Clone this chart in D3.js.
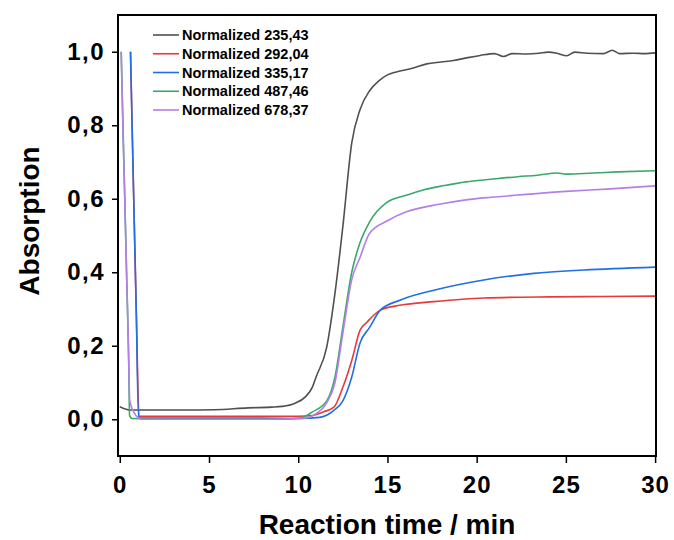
<!DOCTYPE html>
<html>
<head>
<meta charset="utf-8">
<script src="https://cdn.jsdelivr.net/npm/d3@7"></script>
<style>
    body { margin: 0; background: #fff; }
    text { font-family: Arial, "Liberation Sans", sans-serif; font-weight: bold; }
</style>
</head>
<body>
<svg id="chart" width="674" height="540"></svg>
<script>
// series labels and colours
const seriesNames = ['Normalized 235,43', 'Normalized 292,04', 'Normalized 335,17', 'Normalized 487,46', 'Normalized 678,37'];
const seriesColors = ['#505050', '#e8393b', '#1f6fe6', '#3aa86a', '#b47fe6'];

// time (min) and normalized absorption
const t235 = [0, 0.6, 2, 3.5, 5.3, 7.2, 8.5, 9.1, 9.8, 10.4, 10.8, 11.0, 11.6, 12.06, 12.5, 13.0, 13.46, 14.0, 14.5, 15.0, 15.5, 16.4, 17.2, 18.0, 18.7, 19.5, 20.2, 21.0, 21.5, 22.0, 22.8, 23.5, 24.0, 24.5, 25.05, 25.5, 26.2, 27.1, 27.6, 28.0, 28.8, 29.4, 30.0];
const v235 = [0.034, 0.025, 0.025, 0.025, 0.026, 0.031, 0.033, 0.035, 0.043, 0.061, 0.088, 0.115, 0.197, 0.343, 0.524, 0.752, 0.842, 0.894, 0.92, 0.937, 0.945, 0.955, 0.967, 0.972, 0.976, 0.984, 0.99, 0.995, 0.987, 0.995, 0.994, 0.996, 0.999, 0.996, 0.989, 0.999, 0.996, 0.995, 1.004, 0.995, 0.996, 0.995, 0.997];

const t292 = [0.6, 0.74, 0.93, 1.08, 3, 6, 9, 10.0, 10.8, 11.4, 12.0, 12.5, 13.0, 13.46, 13.85, 14.6, 15.7, 17.6, 20.4, 24.1, 27, 30];
const v292 = [1.0, 0.69, 0.28, 0.008, 0.008, 0.008, 0.008, 0.008, 0.01, 0.02, 0.033, 0.087, 0.16, 0.242, 0.264, 0.297, 0.31, 0.32, 0.33, 0.333, 0.334, 0.335];

const t335 = [0.6, 0.74, 0.93, 1.05, 1.2, 4, 8, 10.1, 11.2, 12.0, 12.5, 13.0, 13.46, 14.0, 14.6, 15.7, 17.6, 20.4, 23.2, 26, 30];
const v335 = [1.0, 0.69, 0.28, 0.003, 0.003, 0.003, 0.003, 0.002, 0.005, 0.024, 0.05, 0.115, 0.207, 0.25, 0.297, 0.324, 0.351, 0.379, 0.397, 0.406, 0.414];

const t487 = [0.08, 0.2, 0.3, 0.4, 0.5, 0.55, 0.7, 3, 6, 9, 10.1, 10.8, 11.6, 12.06, 12.5, 13.0, 13.46, 14.0, 14.97, 16.1, 17.0, 18.2, 19.4, 20.8, 22.3, 23.4, 24.5, 25.0, 26.5, 27.9, 30];
const v487 = [1.0, 0.76, 0.56, 0.36, 0.16, 0.01, 0.002, 0.0, 0.0, 0.0, 0.003, 0.02, 0.05, 0.115, 0.25, 0.40, 0.48, 0.537, 0.59, 0.61, 0.624, 0.636, 0.646, 0.653, 0.66, 0.664, 0.67, 0.667, 0.67, 0.673, 0.676];

const t678 = [0.08, 0.18, 0.28, 0.37, 0.47, 0.56, 0.94, 1.2, 4, 8, 10.2, 11.0, 11.6, 12.06, 12.5, 13.0, 13.46, 14.0, 15.0, 16.1, 17.9, 19.4, 20.8, 22.3, 25.0, 27.5, 30];
const v678 = [1.0, 0.78, 0.6, 0.415, 0.23, 0.05, 0.008, 0.0, 0.0, 0.0, 0.002, 0.015, 0.045, 0.1, 0.234, 0.38, 0.44, 0.506, 0.54, 0.565, 0.585, 0.597, 0.604, 0.61, 0.62, 0.627, 0.635];

const xTicks = [0, 5, 10, 15, 20, 25, 30];
const yTicks = [0, 0.2, 0.4, 0.6, 0.8, 1.0];

const times = [t235, t292, t335, t487, t678];
const values = [v235, v292, v335, v487, v678];

const box = { left: 118, right: 656, top: 15, bottom: 456 };
const svg = d3.select('#chart');

const x = d3.scaleLinear().domain([-0.1, 30.05]).range([box.left, box.right]);
const y = d3.scaleLinear().domain([-0.1, 1.1]).range([box.bottom, box.top]);

const fmt = (d) => d.toFixed(1).replace('.', ',');

// axes (ticks outside the frame)
const xAxis = svg.append('g')
    .attr('transform', `translate(0, ${ box.bottom + 1 })`)
    .call(d3.axisBottom(x).tickValues(xTicks).tickSize(6).tickPadding(13).tickFormat(d3.format('d')));
xAxis.select('.domain').remove();
xAxis.selectAll('line').attr('stroke', '#000').attr('stroke-width', 1.5);
xAxis.selectAll('text')
    .attr('fill', '#000')
    .style('font-size', '24px')
    .style('letter-spacing', '1px');

const yAxis = svg.append('g')
    .attr('transform', `translate(${ box.left }, 0)`)
    .call(d3.axisLeft(y).tickValues(yTicks).tickSize(6).tickPadding(7).tickFormat(fmt));
yAxis.select('.domain').remove();
yAxis.selectAll('line').attr('stroke', '#000').attr('stroke-width', 1.5);
yAxis.selectAll('text')
    .attr('fill', '#000')
    .style('font-size', '24px')
    .style('letter-spacing', '1.5px');

// curves
const line = d3.line()
    .x((d) => x(d[0]))
    .y((d) => y(d[1]))
    .curve(d3.curveMonotoneX);

seriesNames.forEach((name, i) => {
    const pts = times[i].map((t, k) => [t, values[i][k]]);
    svg.append('path')
        .datum(pts)
        .attr('d', line)
        .attr('fill', 'none')
        .attr('stroke', seriesColors[i])
        .attr('stroke-width', 1.6);
});

// frame
svg.append('rect')
    .attr('x', box.left)
    .attr('y', box.top)
    .attr('width', box.right - box.left)
    .attr('height', box.bottom - box.top)
    .attr('fill', 'none')
    .attr('stroke', '#000')
    .attr('stroke-width', 2);

// legend
const legend = svg.append('g').attr('class', 'legend');
seriesNames.forEach((name, i) => {
    const ly = 35 + i * 18.75;
    legend.append('line')
        .attr('x1', 153).attr('x2', 179)
        .attr('y1', ly).attr('y2', ly)
        .attr('stroke', seriesColors[i])
        .attr('stroke-width', 1.6);
    legend.append('text')
        .attr('x', 182)
        .attr('y', ly)
        .attr('dy', '0.35em')
        .style('font-size', '14.5px')
        .text(name);
});

// axis titles
svg.append('text')
    .attr('x', 387)
    .attr('y', 534)
    .attr('text-anchor', 'middle')
    .style('font-size', '28px')
    .text('Reaction time / min');

svg.append('text')
    .attr('transform', 'translate(39, 221) rotate(-90)')
    .attr('text-anchor', 'middle')
    .style('font-size', '28px')
    .text('Absorption');
</script>
</body>
</html>
